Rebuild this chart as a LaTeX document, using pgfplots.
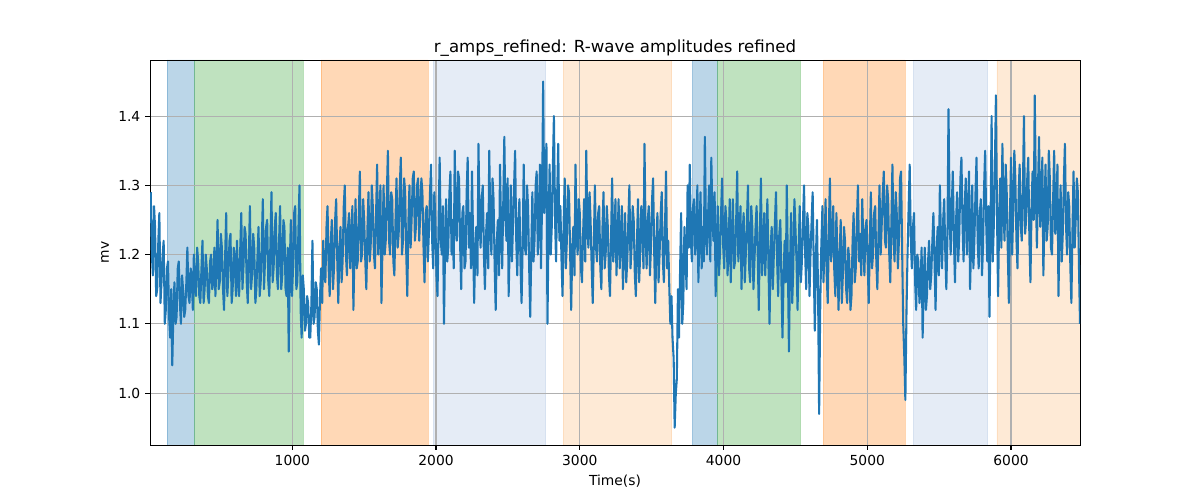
\documentclass[border=0pt]{standalone}
\usepackage{pgfplots}
\pgfplotsset{compat=1.18}
\usepackage{pgfplotstable}
\usepackage{fontspec}
\setmainfont{DejaVu Sans}
\definecolor{tabblue}{HTML}{1F77B4}
\definecolor{tabgreen}{HTML}{2CA02C}
\definecolor{taborange}{HTML}{FF7F0E}
\definecolor{gridc}{HTML}{B0B0B0}
\definecolor{lblue}{HTML}{E5ECF6}
\definecolor{lblueedge}{HTML}{D6E1F0}
\definecolor{lorange}{HTML}{FEEAD6}
\definecolor{loreedge}{HTML}{FDDDBE}
\pgfplotstableread[row sep=\\]{
x y\\
15 1.29\\ 23 1.20\\ 30 1.17\\ 38 1.27\\ 45 1.24\\ 53 1.14\\ 60 1.15\\ 68 1.22\\ 75 1.26\\ 83 1.13\\
90 1.16\\ 98 1.20\\ 105 1.22\\ 113 1.10\\ 120 1.12\\ 128 1.18\\ 135 1.19\\ 143 1.11\\ 150 1.08\\ 158 1.15\\
165 1.04\\ 173 1.12\\ 180 1.16\\ 188 1.10\\ 195 1.11\\ 203 1.18\\ 210 1.19\\ 218 1.13\\ 225 1.10\\ 233 1.17\\
240 1.15\\ 248 1.11\\ 255 1.12\\ 263 1.16\\ 270 1.21\\ 278 1.14\\ 285 1.13\\ 293 1.18\\ 300 1.17\\ 308 1.12\\
315 1.20\\ 323 1.15\\ 330 1.14\\ 338 1.21\\ 345 1.19\\ 353 1.14\\ 360 1.13\\ 368 1.18\\ 375 1.22\\ 383 1.13\\
390 1.15\\ 398 1.20\\ 405 1.18\\ 413 1.14\\ 420 1.13\\ 428 1.19\\ 435 1.20\\ 443 1.15\\ 450 1.16\\ 458 1.21\\
465 1.14\\ 473 1.19\\ 480 1.25\\ 488 1.15\\ 495 1.16\\ 503 1.23\\ 510 1.21\\ 518 1.15\\ 525 1.12\\ 533 1.20\\
540 1.26\\ 548 1.14\\ 555 1.17\\ 563 1.22\\ 570 1.23\\ 578 1.13\\ 585 1.15\\ 593 1.21\\ 600 1.19\\ 608 1.14\\
615 1.22\\ 623 1.16\\ 630 1.14\\ 638 1.21\\ 645 1.26\\ 653 1.15\\ 660 1.18\\ 668 1.24\\ 675 1.23\\ 683 1.16\\
690 1.13\\ 698 1.20\\ 705 1.27\\ 713 1.15\\ 720 1.17\\ 728 1.23\\ 735 1.21\\ 743 1.13\\ 750 1.15\\ 758 1.20\\
765 1.24\\ 773 1.14\\ 780 1.16\\ 788 1.22\\ 795 1.28\\ 803 1.15\\ 810 1.19\\ 818 1.24\\ 825 1.25\\ 833 1.16\\
840 1.14\\ 848 1.22\\ 855 1.29\\ 863 1.16\\ 870 1.18\\ 878 1.24\\ 885 1.26\\ 893 1.17\\ 900 1.15\\ 908 1.22\\
915 1.27\\ 923 1.15\\ 930 1.17\\ 938 1.25\\ 945 1.24\\ 953 1.15\\ 960 1.14\\ 968 1.21\\ 975 1.06\\ 983 1.19\\
990 1.25\\ 998 1.14\\ 1005 1.18\\ 1013 1.26\\ 1020 1.27\\ 1028 1.15\\ 1035 1.16\\ 1043 1.24\\ 1050 1.30\\ 1058 1.12\\
1065 1.08\\ 1073 1.17\\ 1080 1.15\\ 1088 1.09\\ 1095 1.10\\ 1103 1.14\\ 1110 1.13\\ 1118 1.08\\ 1125 1.08\\ 1133 1.13\\
1140 1.22\\ 1148 1.10\\ 1155 1.11\\ 1163 1.16\\ 1170 1.15\\ 1178 1.09\\ 1185 1.07\\ 1193 1.14\\ 1200 1.18\\ 1208 1.13\\
1215 1.22\\ 1223 1.17\\ 1230 1.16\\ 1238 1.24\\ 1245 1.27\\ 1253 1.18\\ 1260 1.14\\ 1268 1.22\\ 1275 1.25\\ 1283 1.15\\
1290 1.18\\ 1298 1.25\\ 1305 1.28\\ 1313 1.19\\ 1320 1.13\\ 1328 1.21\\ 1335 1.24\\ 1343 1.16\\ 1350 1.19\\ 1358 1.27\\
1365 1.30\\ 1373 1.20\\ 1380 1.17\\ 1388 1.24\\ 1395 1.26\\ 1403 1.18\\ 1410 1.22\\ 1418 1.27\\ 1425 1.12\\ 1433 1.21\\
1440 1.28\\ 1448 1.18\\ 1455 1.19\\ 1463 1.26\\ 1470 1.32\\ 1478 1.19\\ 1485 1.20\\ 1493 1.28\\ 1500 1.25\\ 1508 1.19\\
1515 1.15\\ 1523 1.24\\ 1530 1.29\\ 1538 1.19\\ 1545 1.21\\ 1553 1.30\\ 1560 1.27\\ 1568 1.20\\ 1575 1.18\\ 1583 1.26\\
1590 1.33\\ 1598 1.20\\ 1605 1.24\\ 1613 1.30\\ 1620 1.13\\ 1628 1.22\\ 1635 1.30\\ 1643 1.20\\ 1650 1.22\\ 1658 1.29\\
1665 1.35\\ 1673 1.22\\ 1680 1.20\\ 1688 1.29\\ 1695 1.28\\ 1703 1.19\\ 1710 1.17\\ 1718 1.25\\ 1725 1.31\\ 1733 1.21\\
1740 1.23\\ 1748 1.30\\ 1755 1.34\\ 1763 1.20\\ 1770 1.22\\ 1778 1.31\\ 1785 1.29\\ 1793 1.20\\ 1800 1.14\\ 1808 1.25\\
1815 1.30\\ 1823 1.21\\ 1830 1.25\\ 1838 1.31\\ 1845 1.32\\ 1853 1.22\\ 1860 1.24\\ 1868 1.30\\ 1875 1.31\\ 1883 1.22\\
1890 1.26\\ 1898 1.31\\ 1905 1.29\\ 1913 1.21\\ 1920 1.16\\ 1928 1.26\\ 1935 1.27\\ 1943 1.19\\ 1950 1.23\\ 1958 1.29\\
1965 1.33\\ 1973 1.22\\ 1980 1.18\\ 1988 1.29\\ 1995 1.25\\ 2003 1.17\\ 2010 1.14\\ 2018 1.25\\ 2025 1.34\\ 2033 1.22\\
2040 1.20\\ 2048 1.27\\ 2055 1.10\\ 2063 1.21\\ 2070 1.28\\ 2078 1.19\\ 2085 1.21\\ 2093 1.29\\ 2100 1.32\\ 2108 1.20\\
2115 1.25\\ 2123 1.18\\ 2130 1.35\\ 2138 1.24\\ 2145 1.22\\ 2153 1.32\\ 2160 1.31\\ 2168 1.21\\ 2175 1.15\\ 2183 1.26\\
2190 1.27\\ 2198 1.18\\ 2205 1.19\\ 2213 1.29\\ 2220 1.34\\ 2228 1.21\\ 2235 1.26\\ 2243 1.18\\ 2250 1.32\\ 2258 1.22\\
2265 1.13\\ 2273 1.21\\ 2280 1.24\\ 2288 1.17\\ 2295 1.36\\ 2303 1.25\\ 2310 1.21\\ 2318 1.28\\ 2325 1.30\\ 2333 1.20\\
2340 1.15\\ 2348 1.23\\ 2355 1.26\\ 2363 1.18\\ 2370 1.35\\ 2378 1.24\\ 2385 1.20\\ 2393 1.31\\ 2400 1.28\\ 2408 1.18\\
2415 1.12\\ 2423 1.22\\ 2430 1.25\\ 2438 1.17\\ 2445 1.33\\ 2453 1.23\\ 2460 1.18\\ 2468 1.28\\ 2475 1.37\\ 2483 1.25\\
2490 1.22\\ 2498 1.31\\ 2505 1.14\\ 2513 1.22\\ 2520 1.30\\ 2528 1.19\\ 2535 1.24\\ 2543 1.30\\ 2550 1.35\\ 2558 1.22\\
2565 1.17\\ 2573 1.25\\ 2580 1.28\\ 2588 1.18\\ 2595 1.13\\ 2603 1.22\\ 2610 1.33\\ 2618 1.21\\ 2625 1.20\\ 2633 1.30\\
2640 1.27\\ 2648 1.18\\ 2655 1.11\\ 2663 1.21\\ 2670 1.29\\ 2678 1.19\\ 2685 1.22\\ 2693 1.30\\ 2700 1.32\\ 2708 1.20\\
2715 1.25\\ 2723 1.33\\ 2730 1.18\\ 2738 1.28\\ 2745 1.45\\ 2753 1.26\\ 2760 1.30\\ 2768 1.36\\ 2775 1.10\\ 2783 1.24\\
2790 1.33\\ 2798 1.20\\ 2805 1.24\\ 2813 1.33\\ 2820 1.40\\ 2828 1.25\\ 2835 1.19\\ 2843 1.29\\ 2850 1.36\\ 2858 1.22\\
2865 1.27\\ 2873 1.19\\ 2880 1.14\\ 2888 1.25\\ 2895 1.31\\ 2903 1.18\\ 2910 1.22\\ 2918 1.30\\ 2925 1.29\\ 2933 1.20\\
2940 1.12\\ 2948 1.21\\ 2955 1.24\\ 2963 1.17\\ 2970 1.33\\ 2978 1.23\\ 2985 1.20\\ 2993 1.28\\ 3000 1.26\\ 3008 1.18\\
3015 1.16\\ 3023 1.23\\ 3030 1.28\\ 3038 1.19\\ 3045 1.35\\ 3053 1.24\\ 3060 1.21\\ 3068 1.29\\ 3075 1.25\\ 3083 1.18\\
3090 1.13\\ 3098 1.22\\ 3105 1.30\\ 3113 1.21\\ 3120 1.19\\ 3128 1.26\\ 3135 1.27\\ 3143 1.18\\ 3150 1.15\\ 3158 1.24\\
3165 1.29\\ 3173 1.18\\ 3180 1.20\\ 3188 1.27\\ 3195 1.24\\ 3203 1.17\\ 3210 1.14\\ 3218 1.23\\ 3225 1.31\\ 3233 1.19\\
3240 1.22\\ 3248 1.28\\ 3255 1.17\\ 3263 1.22\\ 3270 1.28\\ 3278 1.18\\ 3285 1.23\\ 3293 1.27\\ 3300 1.15\\ 3308 1.21\\
3315 1.26\\ 3323 1.16\\ 3330 1.19\\ 3338 1.25\\ 3345 1.30\\ 3353 1.18\\ 3360 1.21\\ 3368 1.27\\ 3375 1.25\\ 3383 1.17\\
3390 1.14\\ 3398 1.22\\ 3405 1.28\\ 3413 1.16\\ 3420 1.20\\ 3428 1.27\\ 3435 1.24\\ 3443 1.18\\ 3450 1.36\\ 3458 1.23\\
3465 1.18\\ 3473 1.25\\ 3480 1.27\\ 3488 1.17\\ 3495 1.21\\ 3503 1.28\\ 3510 1.31\\ 3518 1.20\\ 3525 1.13\\ 3533 1.22\\
3540 1.26\\ 3548 1.16\\ 3555 1.20\\ 3563 1.26\\ 3570 1.29\\ 3578 1.19\\ 3585 1.16\\ 3593 1.24\\ 3600 1.32\\ 3608 1.18\\
3615 1.22\\ 3623 1.15\\ 3630 1.10\\ 3638 1.14\\ 3645 1.08\\ 3653 1.05\\ 3660 0.95\\ 3668 1.00\\ 3675 1.02\\ 3683 1.15\\
3690 1.08\\ 3698 1.18\\ 3705 1.26\\ 3713 1.10\\ 3720 1.13\\ 3728 1.24\\ 3735 1.20\\ 3743 1.15\\ 3750 1.30\\ 3758 1.21\\
3765 1.33\\ 3773 1.22\\ 3780 1.19\\ 3788 1.27\\ 3795 1.28\\ 3803 1.20\\ 3810 1.22\\ 3818 1.30\\ 3825 1.16\\ 3833 1.24\\
3840 1.29\\ 3848 1.18\\ 3855 1.24\\ 3863 1.19\\ 3870 1.37\\ 3878 1.23\\ 3885 1.20\\ 3893 1.26\\ 3900 1.30\\ 3908 1.19\\
3915 1.34\\ 3923 1.25\\ 3930 1.22\\ 3938 1.29\\ 3945 1.14\\ 3953 1.22\\ 3960 1.27\\ 3968 1.17\\ 3975 1.20\\ 3983 1.26\\
3990 1.31\\ 3998 1.21\\ 4005 1.18\\ 4013 1.27\\ 4020 1.25\\ 4028 1.17\\ 4035 1.21\\ 4043 1.28\\ 4050 1.16\\ 4058 1.23\\
4065 1.28\\ 4073 1.18\\ 4080 1.19\\ 4088 1.25\\ 4095 1.32\\ 4103 1.19\\ 4110 1.22\\ 4118 1.27\\ 4125 1.15\\ 4133 1.23\\
4140 1.26\\ 4148 1.16\\ 4155 1.20\\ 4163 1.25\\ 4170 1.30\\ 4178 1.18\\ 4185 1.16\\ 4193 1.27\\ 4200 1.24\\ 4208 1.15\\
4215 1.19\\ 4223 1.24\\ 4230 1.27\\ 4238 1.20\\ 4245 1.12\\ 4253 1.23\\ 4260 1.31\\ 4268 1.17\\ 4275 1.21\\ 4283 1.26\\
4290 1.17\\ 4298 1.22\\ 4305 1.28\\ 4313 1.18\\ 4320 1.10\\ 4328 1.21\\ 4335 1.24\\ 4343 1.15\\ 4350 1.20\\ 4358 1.25\\
4365 1.29\\ 4373 1.19\\ 4380 1.14\\ 4388 1.23\\ 4395 1.25\\ 4403 1.16\\ 4410 1.08\\ 4418 1.17\\ 4425 1.22\\ 4433 1.16\\
4440 1.30\\ 4448 1.18\\ 4455 1.06\\ 4463 1.19\\ 4470 1.26\\ 4478 1.13\\ 4485 1.18\\ 4493 1.28\\ 4500 1.24\\ 4508 1.19\\
4515 1.12\\ 4523 1.21\\ 4530 1.27\\ 4538 1.16\\ 4545 1.19\\ 4553 1.25\\ 4560 1.30\\ 4568 1.20\\ 4575 1.15\\ 4583 1.26\\
4590 1.24\\ 4598 1.14\\ 4605 1.20\\ 4613 1.25\\ 4620 1.29\\ 4628 1.18\\ 4635 1.09\\ 4643 1.20\\ 4650 1.25\\ 4658 1.14\\
4665 0.97\\ 4673 1.13\\ 4680 1.21\\ 4688 1.27\\ 4695 1.16\\ 4703 1.21\\ 4710 1.28\\ 4718 1.17\\ 4725 1.13\\ 4733 1.24\\
4740 1.31\\ 4748 1.19\\ 4755 1.22\\ 4763 1.27\\ 4770 1.18\\ 4778 1.14\\ 4785 1.26\\ 4793 1.19\\ 4800 1.12\\ 4808 1.20\\
4815 1.25\\ 4823 1.13\\ 4830 1.17\\ 4838 1.24\\ 4845 1.22\\ 4853 1.15\\ 4860 1.13\\ 4868 1.21\\ 4875 1.19\\ 4883 1.12\\
4890 1.14\\ 4898 1.22\\ 4905 1.26\\ 4913 1.16\\ 4920 1.18\\ 4928 1.25\\ 4935 1.30\\ 4943 1.19\\ 4950 1.23\\ 4958 1.17\\
4965 1.28\\ 4973 1.21\\ 4980 1.17\\ 4988 1.24\\ 4995 1.25\\ 5003 1.19\\ 5010 1.13\\ 5018 1.22\\ 5025 1.29\\ 5033 1.18\\
5040 1.20\\ 5048 1.26\\ 5055 1.27\\ 5063 1.19\\ 5070 1.15\\ 5078 1.23\\ 5085 1.30\\ 5093 1.20\\ 5100 1.24\\ 5108 1.29\\
5115 1.32\\ 5123 1.22\\ 5130 1.21\\ 5138 1.30\\ 5145 1.28\\ 5153 1.20\\ 5160 1.16\\ 5168 1.25\\ 5175 1.33\\ 5183 1.22\\
5190 1.19\\ 5198 1.29\\ 5205 1.26\\ 5213 1.18\\ 5220 1.22\\ 5228 1.31\\ 5235 1.32\\ 5243 1.20\\ 5250 1.10\\ 5258 1.05\\
5265 0.99\\ 5273 1.12\\ 5280 1.20\\ 5288 1.27\\ 5295 1.33\\ 5303 1.22\\ 5310 1.18\\ 5318 1.24\\ 5325 1.26\\ 5333 1.16\\
5340 1.12\\ 5348 1.20\\ 5355 1.19\\ 5363 1.13\\ 5370 1.15\\ 5378 1.21\\ 5385 1.08\\ 5393 1.16\\ 5400 1.21\\ 5408 1.12\\
5415 1.14\\ 5423 1.19\\ 5430 1.22\\ 5438 1.15\\ 5445 1.17\\ 5453 1.22\\ 5460 1.26\\ 5468 1.19\\ 5475 1.12\\ 5483 1.21\\
5490 1.24\\ 5498 1.17\\ 5505 1.30\\ 5513 1.22\\ 5520 1.18\\ 5528 1.25\\ 5535 1.28\\ 5543 1.20\\ 5550 1.15\\ 5558 1.23\\
5565 1.41\\ 5573 1.26\\ 5580 1.20\\ 5588 1.27\\ 5595 1.32\\ 5603 1.22\\ 5610 1.16\\ 5618 1.25\\ 5625 1.29\\ 5633 1.19\\
5640 1.23\\ 5648 1.31\\ 5655 1.34\\ 5663 1.24\\ 5670 1.19\\ 5678 1.27\\ 5685 1.31\\ 5693 1.20\\ 5700 1.26\\ 5708 1.32\\
5715 1.15\\ 5723 1.22\\ 5730 1.30\\ 5738 1.18\\ 5745 1.22\\ 5753 1.29\\ 5760 1.34\\ 5768 1.22\\ 5775 1.18\\ 5783 1.26\\
5790 1.28\\ 5798 1.17\\ 5805 1.21\\ 5813 1.30\\ 5820 1.35\\ 5828 1.24\\ 5835 1.19\\ 5843 1.27\\ 5850 1.11\\ 5858 1.25\\
5865 1.40\\ 5873 1.19\\ 5880 1.24\\ 5888 1.33\\ 5895 1.43\\ 5903 1.25\\ 5910 1.14\\ 5918 1.26\\ 5925 1.31\\ 5933 1.21\\
5940 1.36\\ 5948 1.26\\ 5955 1.22\\ 5963 1.33\\ 5970 1.29\\ 5978 1.20\\ 5985 1.13\\ 5993 1.26\\ 6000 1.34\\ 6008 1.20\\
6015 1.26\\ 6023 1.35\\ 6030 1.31\\ 6038 1.22\\ 6045 1.18\\ 6053 1.29\\ 6060 1.33\\ 6068 1.24\\ 6075 1.22\\ 6083 1.30\\
6090 1.40\\ 6098 1.23\\ 6105 1.25\\ 6113 1.31\\ 6120 1.34\\ 6128 1.22\\ 6135 1.16\\ 6143 1.27\\ 6150 1.32\\ 6158 1.25\\
6165 1.43\\ 6173 1.29\\ 6180 1.21\\ 6188 1.30\\ 6195 1.37\\ 6203 1.24\\ 6210 1.27\\ 6218 1.34\\ 6225 1.17\\ 6233 1.26\\
6240 1.33\\ 6248 1.22\\ 6255 1.24\\ 6263 1.35\\ 6270 1.31\\ 6278 1.21\\ 6285 1.20\\ 6293 1.28\\ 6300 1.35\\ 6308 1.23\\
6315 1.26\\ 6323 1.33\\ 6330 1.14\\ 6338 1.24\\ 6345 1.30\\ 6353 1.19\\ 6360 1.23\\ 6368 1.31\\ 6375 1.36\\ 6383 1.24\\
6390 1.20\\ 6398 1.29\\ 6405 1.27\\ 6413 1.18\\ 6420 1.13\\ 6428 1.24\\ 6435 1.32\\ 6443 1.21\\ 6450 1.25\\ 6458 1.31\\
6465 1.29\\ 6473 1.18\\ 6480 1.10\\
}\series
\begin{document}
\begin{tikzpicture}
\begin{axis}[
  at={(1.5in,0.55in)}, anchor=south west,
  width=9.3in, height=3.85in, scale only axis,
  set layers,
  xmin=10, xmax=6480, ymin=0.925, ymax=1.481,
  xtick={1000,2000,3000,4000,5000,6000},
  ytick={1.0,1.1,1.2,1.3,1.4},
  yticklabel style={/pgf/number format/.cd, fixed, fixed zerofill, precision=1},
  xticklabel style={/pgf/number format/.cd, 1000 sep={}},
  /pgf/number format/assume math mode=true,
  ticklabel style={font=\fontsize{10}{12}\selectfont},
  grid=major,
  grid style={gridc, line width=0.8pt},
  tick align=outside,
  major tick length=3.5pt,
  xtick pos=bottom, ytick pos=left,
  tick style={black, line width=0.8pt},
  axis line style={line width=0.7pt},
  title={r\_amps\_refined: R-wave amplitudes refined},
  title style={font=\fontsize{12}{14}\selectfont, at={(0.5,1)}, anchor=base, yshift=-0.7pt, inner sep=0pt},
  xlabel={Time(s)},
  ylabel={mv},
  label style={font=\fontsize{10}{12}\selectfont},
]
\addplot[on layer=axis background, fill=tabblue, fill opacity=0.3, draw=tabblue, draw opacity=0.3] coordinates {(129,0.925) (129,1.481) (318,1.481) (318,0.925) (129,0.925)};
\addplot[on layer=axis background, fill=tabgreen, fill opacity=0.3, draw=tabgreen, draw opacity=0.3] coordinates {(318,0.925) (318,1.481) (1076,1.481) (1076,0.925) (318,0.925)};
\addplot[on layer=axis background, fill=taborange, fill opacity=0.3, draw=taborange, draw opacity=0.3] coordinates {(1200,0.925) (1200,1.481) (1945,1.481) (1945,0.925) (1200,0.925)};
\addplot[on layer=axis background, fill=lblue, draw=lblueedge] coordinates {(1980,0.925) (1980,1.481) (2757,1.481) (2757,0.925) (1980,0.925)};
\addplot[on layer=axis background, fill=lorange, draw=loreedge] coordinates {(2884,0.925) (2884,1.481) (3635,1.481) (3635,0.925) (2884,0.925)};
\addplot[on layer=axis background, fill=tabblue, fill opacity=0.3, draw=tabblue, draw opacity=0.3] coordinates {(3783,0.925) (3783,1.481) (3957,1.481) (3957,0.925) (3783,0.925)};
\addplot[on layer=axis background, fill=tabgreen, fill opacity=0.3, draw=tabgreen, draw opacity=0.3] coordinates {(3957,0.925) (3957,1.481) (4534,1.481) (4534,0.925) (3957,0.925)};
\addplot[on layer=axis background, fill=taborange, fill opacity=0.3, draw=taborange, draw opacity=0.3] coordinates {(4694,0.925) (4694,1.481) (5264,1.481) (5264,0.925) (4694,0.925)};
\addplot[on layer=axis background, fill=lblue, draw=lblueedge] coordinates {(5320,0.925) (5320,1.481) (5832,1.481) (5832,0.925) (5320,0.925)};
\addplot[on layer=axis background, fill=lorange, draw=loreedge] coordinates {(5902,0.925) (5902,1.481) (6479,1.481) (6479,0.925) (5902,0.925)};
\addplot[tabblue, line width=1.5pt, line join=round] table[x=x, y=y] {\series};
\end{axis}
\path[use as bounding box] (0,0) rectangle (12in,5in);
\end{tikzpicture}
\end{document}
